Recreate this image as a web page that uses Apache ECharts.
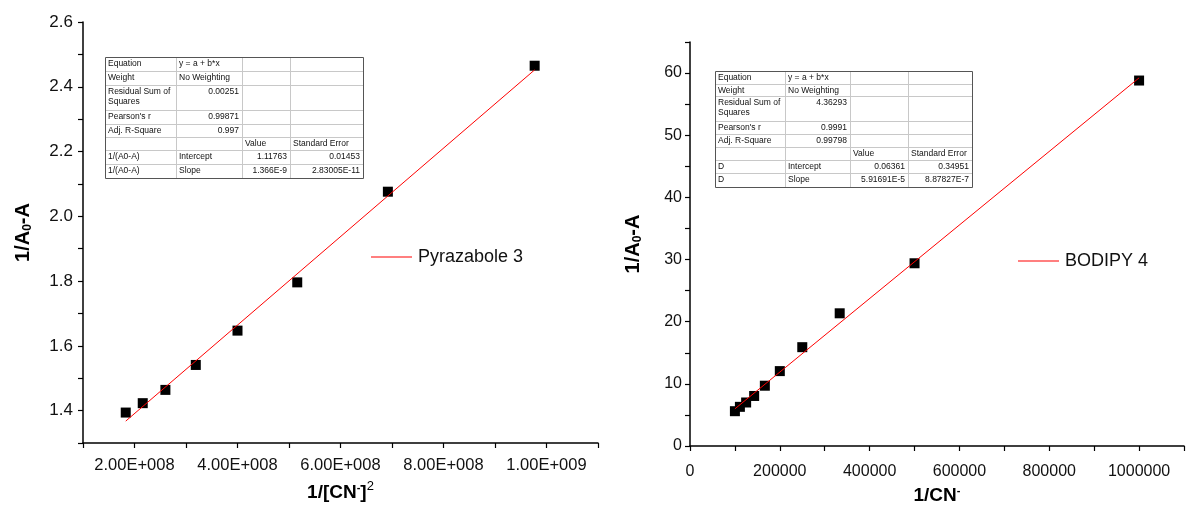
<!DOCTYPE html>
<html><head><meta charset="utf-8">
<script src="https://cdn.jsdelivr.net/npm/echarts@6/dist/echarts.min.js"></script>
<style>html,body{margin:0;padding:0;background:#fff}#c{width:1190px;height:510px}</style>
</head><body><div id="c"></div>
<script>
// ---------- data ----------
const leftName = 'Pyrazabole 3';
const leftX = [1.83e8, 2.16e8, 2.60e8, 3.19e8, 4.00e8, 5.16e8, 6.92e8, 9.77e8];
const leftY = [1.394, 1.423, 1.464, 1.541, 1.647, 1.796, 2.076, 2.465];
const leftFit = [1.11763, 1.366e-9]; // intercept, slope

const rightName = 'BODIPY 4';
const rightX = [100000, 111111, 125000, 142857, 166667, 200000, 250000, 333333, 500000, 1000000];
const rightY = [5.6, 6.3, 7.0, 8.05, 9.7, 12.05, 15.9, 21.35, 29.4, 58.8];
const rightFit = [0.06361, 5.91691e-5];

const leftTable = [
  ['Equation', 'y = a + b*x', '', ''],
  ['Weight', 'No Weighting', '', ''],
  ['Residual Sum of\nSquares', '0.00251', '', ''],
  ["Pearson's r", '0.99871', '', ''],
  ['Adj. R-Square', '0.997', '', ''],
  ['', '', 'Value', 'Standard Error'],
  ['1/(A0-A)', 'Intercept', '1.11763', '0.01453'],
  ['1/(A0-A)', 'Slope', '1.366E-9', '2.83005E-11']
];
const rightTable = [
  ['Equation', 'y = a + b*x', '', ''],
  ['Weight', 'No Weighting', '', ''],
  ['Residual Sum of\nSquares', '4.36293', '', ''],
  ["Pearson's r", '0.9991', '', ''],
  ['Adj. R-Square', '0.99798', '', ''],
  ['', '', 'Value', 'Standard Error'],
  ['D', 'Intercept', '0.06361', '0.34951'],
  ['D', 'Slope', '5.91691E-5', '8.87827E-7']
];

// ---------- helpers ----------
function pairs(xs, ys) { return xs.map((x, i) => [x, ys[i]]); }
function fitLine(xs, fit) {
  const a = Math.min(...xs), b = Math.max(...xs);
  return [[a, fit[0] + fit[1] * a], [b, fit[0] + fit[1] * b]];
}
function sci(v) {
  const e = Math.floor(Math.log10(v) + 1e-9);
  const m = v / Math.pow(10, e);
  return m.toFixed(2) + 'E+' + String(e).padStart(3, '0');
}
const isNum = s => /^[0-9.\-E+]+$/.test(s) && /[0-9]/.test(s);

function table(rows, colEdges, y0, rowH) {
  const ch = [];
  const x0 = colEdges[0], x1 = colEdges[colEdges.length - 1];
  let y = y0;
  const rowTops = [];
  rowH.forEach(h => { rowTops.push(y); y += h; });
  const y1 = y;
  rowTops.slice(1).forEach(t => ch.push({type: 'line', shape: {x1: x0, y1: t + 0.5, x2: x1, y2: t + 0.5}, style: {stroke: '#c8c8c8', lineWidth: 1}}));
  colEdges.slice(1, -1).forEach(c => ch.push({type: 'line', shape: {x1: c + 0.5, y1: y0, x2: c + 0.5, y2: y1}, style: {stroke: '#c8c8c8', lineWidth: 1}}));
  ch.push({type: 'rect', shape: {x: x0 + 0.5, y: y0 + 0.5, width: x1 - x0, height: y1 - y0}, style: {fill: 'none', stroke: '#555', lineWidth: 1}});
  rows.forEach((r, i) => {
    r.forEach((txt, j) => {
      if (!txt) return;
      const num = isNum(txt);
      ch.push({type: 'text', x: num ? colEdges[j + 1] - 3 : colEdges[j] + 3, y: rowTops[i] + 2,
        style: {text: txt, fill: '#111', font: '8.5px "Liberation Sans", Arial, sans-serif', align: num ? 'right' : 'left', verticalAlign: 'top', lineHeight: 10}});
    });
  });
  return {type: 'group', children: ch, z: 50};
}

const axisCommon = {
  axisLine: {show: true, onZero: false, lineStyle: {color: '#000', width: 1.5}},
  axisTick: {show: true, inside: false, length: 5, lineStyle: {color: '#000', width: 1.2}},
  splitLine: {show: false},
};
const ff = '"Liberation Sans", Arial, sans-serif';
const labFont = {color: '#111', fontFamily: ff};
const titleFont = {color: '#000', fontFamily: ff, fontWeight: 'bold', fontSize: 19};
const legendText = {fontSize: 18, color: '#111', fontFamily: ff, padding: [0, 0, 0, 1]};

const chart = echarts.init(document.getElementById('c'));
chart.setOption({
  backgroundColor: '#fff',
  animation: false,
  grid: [
    {left: 83, top: 22, right: 592, bottom: 67},
    {left: 690, top: 42, right: 6, bottom: 57}
  ],
  xAxis: [
    Object.assign({}, axisCommon, {
      gridIndex: 0, type: 'value', min: 1e8, max: 1.1e9, interval: 1e8,
      axisLabel: Object.assign({fontSize: 16.5, margin: 14,
        formatter: v => (Math.round(v / 1e8) % 2 === 0 ? sci(v) : '')}, labFont),
      name: '1/[CN{sup1|-}]{sup2|2}', nameLocation: 'middle', nameGap: 37,
      nameTextStyle: Object.assign({}, titleFont, {rich: {
        sup1: {fontSize: 11, fontWeight: 'bold', padding: [0, 0, 10, 0], fontFamily: ff},
        sup2: {fontSize: 13, fontWeight: 'normal', padding: [0, 0, 12, 0], fontFamily: ff}}})
    }),
    Object.assign({}, axisCommon, {
      gridIndex: 1, type: 'value', min: 0, max: 1.1e6, interval: 1e5,
      axisLabel: Object.assign({fontSize: 16, margin: 18,
        formatter: v => (Math.round(v / 1e5) % 2 === 0 ? String(Math.round(v)) : '')}, labFont),
      name: '1/CN{sup1|-}', nameLocation: 'middle', nameGap: 39,
      nameTextStyle: Object.assign({}, titleFont, {rich: {
        sup1: {fontSize: 11, fontWeight: 'bold', padding: [0, 0, 10, 0], fontFamily: ff}}})
    })
  ],
  yAxis: [
    Object.assign({}, axisCommon, {
      gridIndex: 0, type: 'value', min: 1.3, max: 2.6, interval: 0.1,
      axisLabel: Object.assign({fontSize: 17, margin: 10,
        formatter: v => (Math.round(v * 10) % 2 === 0 ? v.toFixed(1) : '')}, labFont),
      name: '1/A{sub|0}-A', nameLocation: 'middle', nameGap: 49, nameRotate: 90,
      nameTextStyle: Object.assign({}, titleFont, {fontSize: 20, rich: {
        sub: {fontSize: 12, fontWeight: 'bold', padding: [10, 0, 0, 0], fontFamily: ff}}})
    }),
    Object.assign({}, axisCommon, {
      gridIndex: 1, type: 'value', min: 0, max: 65, interval: 5,
      axisLabel: Object.assign({fontSize: 16, margin: 8,
        formatter: v => (Math.round(v) % 10 === 0 ? String(Math.round(v)) : '')}, labFont),
      name: '1/A{sub|0}-A', nameLocation: 'middle', nameGap: 46, nameRotate: 90,
      nameTextStyle: Object.assign({}, titleFont, {fontSize: 20, rich: {
        sub: {fontSize: 12, fontWeight: 'bold', padding: [10, 0, 0, 0], fontFamily: ff}}})
    })
  ],
  legend: [
    {data: [{name: leftName, icon: 'rect'}], left: 371, top: 248, itemWidth: 41, itemHeight: 1.2, padding: 0, itemGap: 0,
      textStyle: legendText},
    {data: [{name: rightName, icon: 'rect'}], left: 1018, top: 252, itemWidth: 41, itemHeight: 1.2, padding: 0, itemGap: 0,
      textStyle: legendText}
  ],
  series: [
    {type: 'scatter', xAxisIndex: 0, yAxisIndex: 0, data: pairs(leftX, leftY), symbol: 'rect', symbolSize: 10,
      itemStyle: {color: '#000', opacity: 1}, z: 2},
    {name: leftName, type: 'line', xAxisIndex: 0, yAxisIndex: 0, data: fitLine(leftX, leftFit), symbol: 'none',
      lineStyle: {color: '#ff0000', width: 1}, itemStyle: {color: '#ff0000'}, z: 3},
    {type: 'scatter', xAxisIndex: 1, yAxisIndex: 1, data: pairs(rightX, rightY), symbol: 'rect', symbolSize: 10,
      itemStyle: {color: '#000', opacity: 1}, z: 2},
    {name: rightName, type: 'line', xAxisIndex: 1, yAxisIndex: 1, data: fitLine(rightX, rightFit), symbol: 'none',
      lineStyle: {color: '#ff0000', width: 1}, itemStyle: {color: '#ff0000'}, z: 3}
  ],
  graphic: [
    table(leftTable, [105, 176, 242, 290, 363], 57, [14, 14, 25, 14, 13, 13, 14, 14]),
    table(rightTable, [715, 785, 850, 908, 972], 71, [13, 12, 25, 13, 13, 13, 13, 14])
  ]
});
</script></body></html>
